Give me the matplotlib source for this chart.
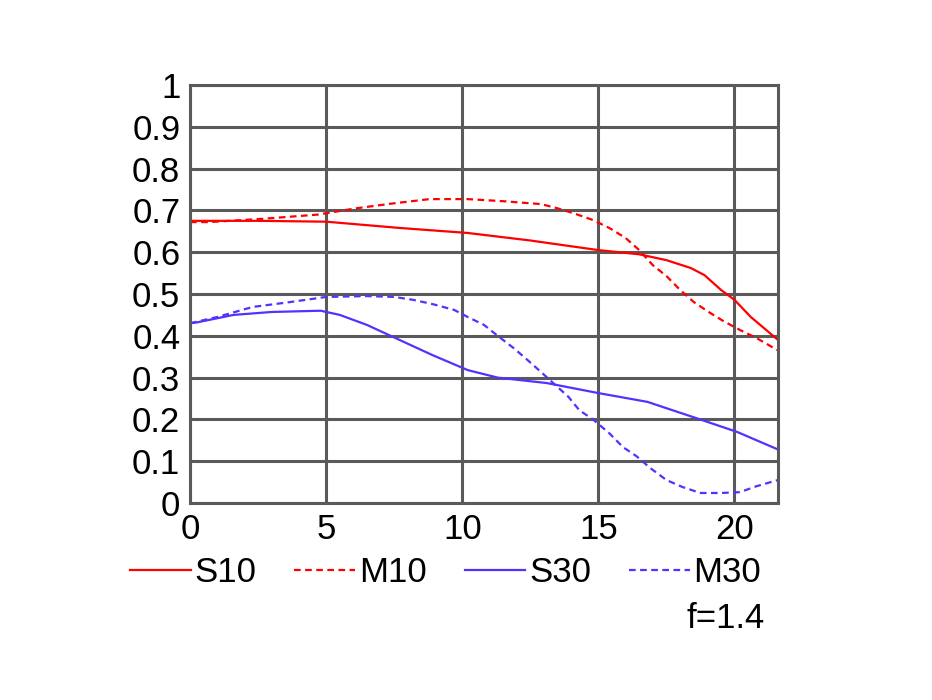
import matplotlib.pyplot as plt

# --- data ---
s10_x = [0, 2.5, 5, 7.7, 10.2, 12.5, 15, 16.5, 17.5, 18.4, 18.9, 19.5, 20, 20.6, 21.6]
s10_y = [0.675, 0.675, 0.673, 0.658, 0.646, 0.628, 0.605, 0.595, 0.581, 0.562, 0.545, 0.51, 0.486, 0.445, 0.39]

m10_x = [0, 0.7, 2.7, 4.7, 6.1, 7.5, 8.8, 10.2, 11.5, 12.9, 13.5, 14.1, 14.8, 15.4, 16, 16.5,
         17, 17.5, 18, 18.5, 19.1, 19.6, 20.2, 20.8, 21.6]
m10_y = [0.672, 0.672, 0.68, 0.69, 0.705, 0.717, 0.727, 0.727, 0.722, 0.715, 0.705, 0.693, 0.677,
         0.658, 0.634, 0.605, 0.569, 0.543, 0.51, 0.481, 0.455, 0.435, 0.414, 0.395, 0.365]

s30_x = [0, 0.25, 1.6, 3, 4.8, 5.5, 6.5, 7.7, 8.9, 10.2, 11.3, 13.1, 15, 16.8, 18.6, 20.1, 21.6]
s30_y = [0.43, 0.432, 0.45, 0.457, 0.46, 0.45, 0.426, 0.39, 0.354, 0.318, 0.30, 0.287, 0.263,
         0.242, 0.203, 0.17, 0.128]

m30_x = [0, 1, 2.3, 3.6, 5, 6.5, 7.5, 8.2, 8.9, 9.7, 10.2, 10.8, 11.3, 11.9, 12.4, 12.9, 13.9,
         14.3, 14.8, 15.4, 15.9, 16.4, 16.9, 17.5, 18.1, 18.75, 19.5, 20.2, 20.8, 21.6]
m30_y = [0.43, 0.445, 0.469, 0.48, 0.493, 0.495, 0.493, 0.486, 0.476, 0.462, 0.445, 0.426, 0.40,
         0.37, 0.342, 0.313, 0.254, 0.222, 0.2, 0.167, 0.134, 0.112, 0.084, 0.055, 0.038, 0.024,
         0.024, 0.026, 0.04, 0.055]

x_ticks = [0, 5, 10, 15, 20]
y_ticks = [0, 0.1, 0.2, 0.3, 0.4, 0.5, 0.6, 0.7, 0.8, 0.9, 1]
y_labels = ['0', '0.1', '0.2', '0.3', '0.4', '0.5', '0.6', '0.7', '0.8', '0.9', '1']

plt.rcParams['font.family'] = ['Liberation Sans', 'DejaVu Sans']

fig = plt.figure(figsize=(9.32, 7), dpi=100)
ax = fig.add_axes([0.2039, 0.2814, 0.6309, 0.5972])

red = '#ff0000'
blue = '#4f33ff'
dash = (0, (3, 2))

ax.plot(s10_x, s10_y, color=red, lw=1.6, label='S10')
ax.plot(m10_x, m10_y, color=red, lw=1.6, linestyle=dash, label='M10')
ax.plot(s30_x, s30_y, color=blue, lw=1.6, label='S30')
ax.plot(m30_x, m30_y, color=blue, lw=1.6, linestyle=dash, label='M30')

ax.set_xlim(0, 21.6)
ax.set_ylim(0, 1)
ax.set_xticks(x_ticks)
ax.set_yticks(y_ticks)
ax.set_yticklabels(y_labels)
ax.tick_params(length=0, labelsize=25, pad=7)
ax.grid(True, color='#5a5a5a', lw=2.2)
ax.set_axisbelow(True)
for sp in ax.spines.values():
    sp.set_color('#5a5a5a')
    sp.set_linewidth(2.2)

ax.legend(loc='center left', bbox_to_anchor=(-0.102, -0.167), ncol=4, frameon=False,
          fontsize=25, handlelength=1.75, handletextpad=0.1, columnspacing=1.1,
          borderaxespad=0, borderpad=0)

fig.text(0.8208, 0.117, 'f=1.4', fontsize=25, ha='right', va='center')

fig.savefig('out.png', dpi=100)
